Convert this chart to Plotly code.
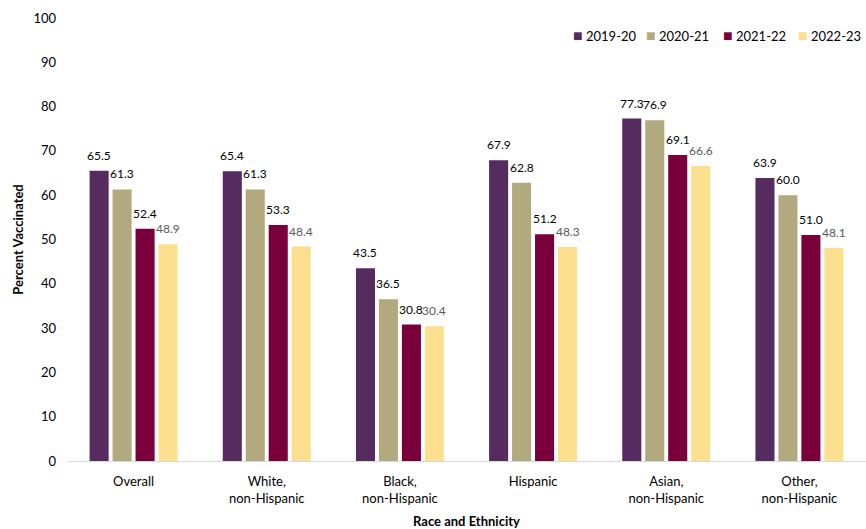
import plotly.graph_objects as go

categories = ["Overall", "White,<br>non-Hispanic", "Black,<br>non-Hispanic", "Hispanic",
              "Asian,<br>non-Hispanic", "Other,<br>non-Hispanic"]
seasons = ["2019-20", "2020-21", "2021-22", "2022-23"]
values = {
    "2019-20": [65.5, 65.4, 43.5, 67.9, 77.3, 63.9],
    "2020-21": [61.3, 61.3, 36.5, 62.8, 76.9, 60.0],
    "2021-22": [52.4, 53.3, 30.8, 51.2, 69.1, 51.0],
    "2022-23": [48.9, 48.4, 30.4, 48.3, 66.6, 48.1],
}
colors = {"2019-20": "#562B5F", "2020-21": "#B3A97E", "2021-22": "#7A003C", "2022-23": "#FDE08F"}
label_colors = {"2019-20": "#000000", "2020-21": "#000000", "2021-22": "#000000", "2022-23": "#595959"}

FONT = "Lato, Open Sans, sans-serif"
BARGAP = 0.31
GROUPGAP = 0.17

fig = go.Figure()
for s in seasons:
    fig.add_trace(go.Bar(
        name=s, x=categories, y=values[s],
        marker=dict(color=colors[s], line=dict(width=0)),
        showlegend=False,
    ))

# Value labels above each bar, offset to the bar's slot within its group
n = len(seasons)
slot = (1 - BARGAP) / n
annotations = []
for i, s in enumerate(seasons):
    offset = -(1 - BARGAP) / 2 + slot * (i + 0.5)
    for j, v in enumerate(values[s]):
        annotations.append(dict(
            x=j + offset, y=v, xref="x", yref="y", text=f"{v:.1f}",
            showarrow=False, yanchor="bottom", yshift=6,
            font=dict(family=FONT, size=12, color=label_colors[s]),
        ))

# Compact legend row at top right
legend_x = [0.632, 0.724, 0.820, 0.914]
for s, lx in zip(seasons, legend_x):
    annotations.append(dict(
        x=lx, y=0.962, xref="paper", yref="paper", xanchor="left", yanchor="middle",
        text=f"<span style='color:{colors[s]};font-size:16px'>■</span> {s}", showarrow=False,
        font=dict(family=FONT, size=13, color="#000000"), borderpad=0,
    ))

fig.update_layout(
    width=866, height=529,
    margin=dict(l=67, r=0, t=18, b=68),
    paper_bgcolor="white", plot_bgcolor="white",
    barmode="group", bargap=BARGAP, bargroupgap=GROUPGAP,
    font=dict(family=FONT, size=13, color="#000000"),
    xaxis=dict(showline=True, linecolor="#D9D9D9", linewidth=1, ticks="",
               ticklabelstandoff=8,
               title=dict(text="<b>Race and Ethnicity</b>", font=dict(size=13), standoff=14),
               tickfont=dict(size=13)),
    yaxis=dict(range=[0, 100], dtick=10, showgrid=False, zeroline=False, showline=False,
               ticks="", tickfont=dict(size=13), ticklabelstandoff=10,
               title=dict(text="<b>Percent Vaccinated</b>", font=dict(size=13), standoff=6)),
    annotations=annotations,
    showlegend=False,
)

fig.write_html("out.html")
